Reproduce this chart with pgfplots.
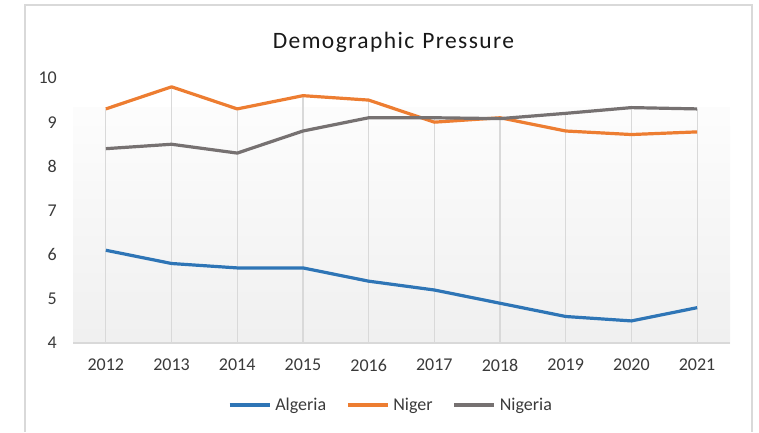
\documentclass[border=0pt]{standalone}
\usepackage{pgfplots}
\pgfplotsset{compat=1.18}
\usepackage{fontspec}
\setmainfont{Carlito}
\definecolor{cblue}{HTML}{2E75B6}
\definecolor{corange}{HTML}{ED7D31}
\definecolor{cgray}{HTML}{767171}
\definecolor{cgrid}{HTML}{D9D9D9}
\definecolor{cborder}{HTML}{D9D9D9}
\definecolor{ctext}{HTML}{3A3A3A}
\begin{document}
\begin{tikzpicture}[x=1bp,y=1bp]
\path[use as bounding box] (0,0) rectangle (759,432);
\draw[color=cborder, line width=2bp] (25,0) -- (25,427) -- (752,427) -- (752,0);
\node[anchor=base, text=black!90, font=\fontsize{23.5bp}{27bp}\selectfont\addfontfeature{LetterSpace=6}] at (393.5,384) {Demographic\hspace{8bp}Pressure};
\begin{axis}[
  at={(73bp,89bp)}, anchor=south west,
  width=657bp, height=265bp, scale only axis,
  xmin=2011.5, xmax=2021.5, ymin=4, ymax=10,
  xtick={2012,...,2021}, ytick={4,...,10},
  axis line style={draw=none},
  tick style={draw=none},
  /pgf/number format/assume math mode=true,
  xticklabel style={/pgf/number format/1000 sep={}, anchor=north, inner sep=0pt, yshift=-16bp},
  yticklabel style={anchor=east, inner sep=0pt, xshift=-16bp},
  ticklabel style={font=\fontsize{18bp}{20bp}\selectfont, text=ctext},
  legend style={at={(0.4825,-0.234)}, anchor=center, legend columns=3, draw=none, fill=none,
    font=\fontsize{18bp}{20bp}\selectfont, text=ctext,
    nodes={inner sep=0pt},
    /tikz/every odd column/.append style={column sep=4bp},
    /tikz/every even column/.append style={column sep=20bp}},
  legend image code/.code={\draw[#1] (0bp,0bp) -- (40bp,0bp);},
  clip=false,
]
\fill[top color=white!99!black, bottom color=white!94!black, draw=none] (axis cs:2011.5,4) rectangle (axis cs:2021.5,9.33);
\draw[cgrid, line width=1.2bp] (axis cs:2011.5,4) -- (axis cs:2021.5,4);
\addplot[ycomb, cgrid, line width=1.2bp, forget plot] coordinates {
(2012,9.3) (2013,9.8) (2014,9.3) (2015,9.6) (2016,9.5) (2017,9.1) (2018,9.1) (2019,9.2) (2020,9.33) (2021,9.3)};
\addplot[cblue, line width=3.2bp, line join=round] coordinates {
(2012,6.1) (2013,5.8) (2014,5.7) (2015,5.7) (2016,5.4) (2017,5.2) (2018,4.9) (2019,4.6) (2020,4.5) (2021,4.8)};
\addlegendentry{Algeria}
\addplot[corange, line width=3.2bp, line join=round] coordinates {
(2012,9.3) (2013,9.8) (2014,9.3) (2015,9.6) (2016,9.5) (2017,9.0) (2018,9.1) (2019,8.8) (2020,8.72) (2021,8.78)};
\addlegendentry{Niger}
\addplot[cgray, line width=3.2bp, line join=round] coordinates {
(2012,8.4) (2013,8.5) (2014,8.3) (2015,8.8) (2016,9.1) (2017,9.1) (2018,9.08) (2019,9.2) (2020,9.33) (2021,9.3)};
\addlegendentry{Nigeria}
\end{axis}
\end{tikzpicture}
\end{document}
